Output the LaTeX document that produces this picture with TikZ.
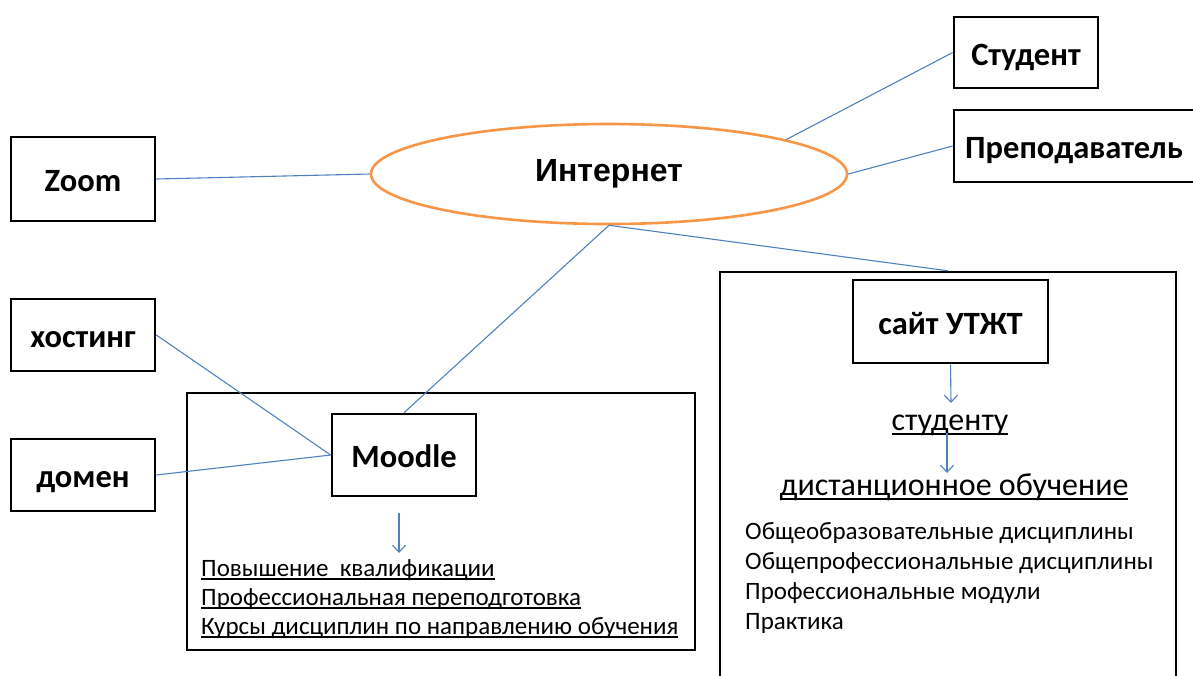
\documentclass[tikz,border=0pt]{standalone}
\usepackage{fontspec}
\setmainfont{Carlito}
\newfontfamily\arialfont{Liberation Sans}
\usetikzlibrary{shapes.geometric,arrows.meta}
\definecolor{lnblue}{HTML}{4F81BD}
\definecolor{ellorange}{HTML}{F79646}
\newcommand\ulx[2]{\setbox0\hbox{#2}\rlap{\rule[-#1]{\wd0}{1.3pt}}\box0}
\tikzset{
  box/.style={draw=black, line width=2.6pt, fill=white, inner sep=0pt, text height=25pt, text depth=0pt, font=\fontsize{32.5}{36}\selectfont\bfseries},
  frame/.style={draw=black, line width=2.4pt, inner sep=0pt},
  conn/.style={draw=lnblue, line width=1.1pt},
  arr/.style={draw=lnblue, line width=1.1pt, -{Straight Barb[length=7pt,width=13pt,line width=1.1pt]}},
  listl/.style={anchor=base west, inner sep=0pt, font=\fontsize{25}{28}\selectfont},
  bigu/.style={anchor=base, inner sep=0pt, font=\fontsize{32}{36}\selectfont},
}
\begin{document}
\begin{tikzpicture}[x=1pt,y=-1pt]
\useasboundingbox (0,0) rectangle (1193,675);
\clip (0,0) rectangle (1193,675);
% frames
\node[frame, minimum width=508pt, minimum height=257pt] (mframe) at (441,521.5) {};
\node[frame, minimum width=456pt, minimum height=440pt] (sframe) at (948,492) {};
% ellipse
\node[ellipse, draw=ellorange, line width=2.6pt, fill=white, minimum width=476pt, minimum height=100pt, inner sep=0pt,
  font=\arialfont\fontsize{32}{36}\selectfont\bfseries] (inet) at (609,174) {Интернет};
% boxes
\node[box, minimum width=144pt, minimum height=84pt] (zoom) at (83,179) {Zoom};
\node[box, minimum width=144pt, minimum height=72pt] (host) at (83,335) {хостинг};
\node[box, minimum width=144pt, minimum height=72pt] (dom) at (83,475) {домен};
\node[box, minimum width=144pt, minimum height=82pt] (moodle) at (404,455) {Moodle};
\node[box, minimum width=144pt, minimum height=71pt] (stud) at (1026,52.5) {Студент};
\node[box, minimum width=240pt, minimum height=72pt] (prep) at (1074,146) {Преподаватель};
\node[box, minimum width=195pt, minimum height=83pt] (site) at (950.5,321.5) {сайт УТЖТ};
% connectors
\draw[conn] (zoom.east) -- (inet.west);
\draw[conn] (inet.11) -- (stud.west);
\draw[conn] (inet.east) -- (prep.west);
\draw[conn] (inet.south) -- (moodle.north);
\draw[conn] (inet.south) -- (sframe.north);
\draw[conn] (host.east) -- (moodle.west);
\draw[conn] (dom.east) -- (moodle.west);
% Moodle list
\coordinate (ma1) at (399,513);
\coordinate (ma2) at (399,553);
\draw[arr] (ma1) -- (ma2);
\node[listl] (l1) at (201,576) {\ulx{3.5pt}{Повышение\ \ квалификации}};
\node[listl] (l2) at (201,605) {\ulx{3.5pt}{Профессиональная переподготовка}};
\node[listl] (l3) at (201,634) {\ulx{3.5pt}{Курсы дисциплин по направлению обучения}};
% site contents
\node[bigu] (tost) at (950,430) {\ulx{4.5pt}{студенту}};
\coordinate (sa0) at (951,403);
\draw[arr] (site.south) -- (sa0);
\coordinate (sa1) at (947,433);
\coordinate (sa2) at (947,473);
\draw[arr] (sa1) -- (sa2);
\node[bigu] (dist) at (954,495) {\ulx{4.5pt}{дистанционное обучение}};
\node[listl] (r1) at (745,539) {Общеобразовательные дисциплины};
\node[listl] (r2) at (745,569) {Общепрофессиональные дисциплины};
\node[listl] (r3) at (745,599) {Профессиональные модули};
\node[listl] (r4) at (745,629) {Практика};
\end{tikzpicture}
\end{document}
